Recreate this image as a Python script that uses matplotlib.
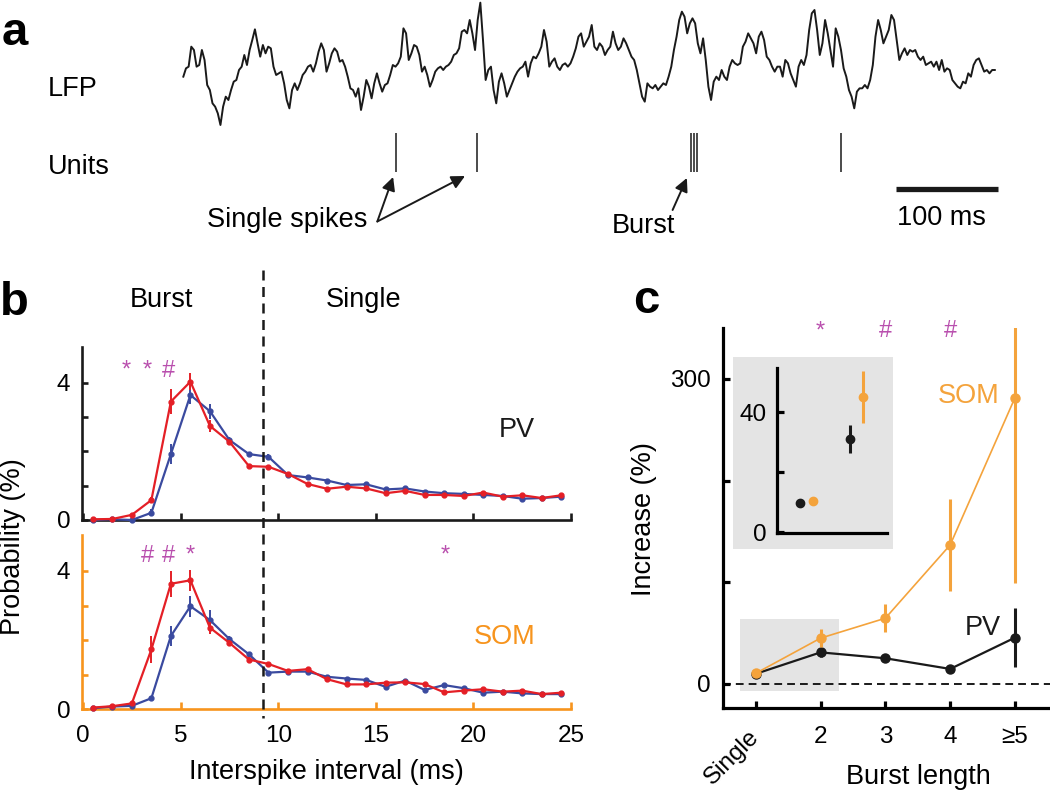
"""Figure: LFP with unit spikes, ISI distributions (PV / SOM) and burst-length increase."""

import numpy as np
import matplotlib.pyplot as plt
import matplotlib.transforms as mtransforms
from matplotlib.lines import Line2D
from matplotlib.patches import Rectangle

plt.rcParams['font.family'] = ['Liberation Sans', 'DejaVu Sans']

# ---------------- data ----------------
# panel a: LFP trace (downward deflection, arbitrary units), sampled every 2.6 ms
lfp_t0 = 1.3
lfp_dt = 2.6
lfp = [230, 205, 200, 140, 150, 200, 195, 150, 180, 255, 270, 310, 320, 340, 375, 320,
       290, 300, 270, 245, 240, 210, 200, 165, 195, 150, 120, 88, 130, 170, 135, 160,
       140, 145, 200, 225, 220, 215, 250, 300, 325, 270, 250, 270, 250, 225, 215, 200,
       195, 215, 190, 155, 130, 150, 215, 190, 160, 145, 155, 185, 180, 200, 230, 265,
       270, 290, 265, 330, 290, 240, 260, 295, 250, 220, 250, 275, 255, 250, 225, 195,
       200, 190, 170, 85, 100, 180, 160, 135, 140, 165, 215, 200, 225, 260, 240, 215,
       205, 200, 210, 200, 195, 185, 165, 160, 145, 95, 90, 100, 60, 100, 150, 60,
       8, 120, 240, 210, 200, 270, 310, 245, 220, 250, 290, 270, 250, 230, 215, 205,
       200, 185, 230, 190, 170, 175, 160, 140, 90, 125, 200, 185, 175, 200, 210, 195,
       190, 200, 190, 170, 145, 110, 100, 140, 125, 110, 75, 140, 150, 130, 140, 165,
       150, 140, 95, 130, 150, 140, 115, 130, 150, 170, 180, 210, 250, 290, 305, 250,
       260, 265, 255, 270, 260, 250, 255, 230, 200, 150, 110, 60, 35, 50, 100, 70,
       55, 70, 130, 160, 115, 180, 260, 300, 245, 230, 240, 210, 230, 240, 200, 180,
       190, 195, 190, 140, 125, 100, 115, 130, 160, 110, 95, 120, 170, 180, 200, 215,
       200, 200, 230, 180, 190, 220, 240, 260, 200, 180, 195, 165, 90, 40, 30, 90,
       165, 130, 60, 100, 150, 200, 85, 110, 150, 205, 230, 270, 290, 325, 275, 265,
       265, 255, 265, 240, 195, 110, 60, 90, 130, 110, 90, 45, 60, 120, 180, 160,
       145, 165, 150, 155, 150, 170, 180, 170, 195, 190, 185, 200, 185, 210, 180, 215,
       205, 210, 240, 250, 260, 265, 245, 250, 220, 230, 195, 180, 175, 195, 215, 210,
       220, 210, 210]
spike_times = [209.8, 289.0, 499.0, 502.0, 505.0, 646.0]   # ms

# panel b: ISI probability (%) in 1-ms bins
isi_bins = np.arange(25) + 0.5
pv_red = [0.02, 0.03, 0.15, 0.58, 3.45, 4.03, 2.74, 2.28, 1.57, 1.55, 1.34, 1.05, 0.91,
          0.97, 0.92, 0.78, 0.85, 0.73, 0.73, 0.70, 0.80, 0.68, 0.72, 0.64, 0.72]
pv_red_err = [0.02, 0.02, 0.03, 0.08, 0.37, 0.25, 0.17, 0.06, 0.06, 0.05, 0.05, 0.04, 0.04,
              0.04, 0.04, 0.04, 0.04, 0.04, 0.04, 0.03, 0.04, 0.03, 0.03, 0.03, 0.03]
pv_blue = [0.0, 0.02, 0.0, 0.21, 1.92, 3.64, 3.17, 2.33, 1.92, 1.84, 1.31, 1.24, 1.15,
           1.02, 1.04, 0.89, 0.92, 0.83, 0.78, 0.76, 0.73, 0.70, 0.62, 0.64, 0.68]
pv_blue_err = [0.02, 0.02, 0.02, 0.1, 0.3, 0.27, 0.22, 0.08, 0.07, 0.07, 0.06, 0.05, 0.05,
               0.04, 0.04, 0.04, 0.04, 0.04, 0.04, 0.03, 0.03, 0.03, 0.03, 0.03, 0.03]
som_red = [0.05, 0.09, 0.17, 1.73, 3.63, 3.73, 2.36, 1.92, 1.44, 1.31, 1.11, 1.16, 0.87,
           0.72, 0.72, 0.77, 0.78, 0.73, 0.49, 0.54, 0.58, 0.51, 0.54, 0.44, 0.48]
som_red_err = [0.02, 0.02, 0.04, 0.4, 0.38, 0.3, 0.17, 0.08, 0.07, 0.06, 0.05, 0.05, 0.05,
               0.04, 0.04, 0.04, 0.04, 0.04, 0.04, 0.03, 0.03, 0.03, 0.03, 0.03, 0.03]
som_blue = [0.03, 0.08, 0.1, 0.32, 2.12, 2.98, 2.58, 2.03, 1.59, 1.06, 1.09, 1.09, 0.94,
            0.89, 0.85, 0.65, 0.83, 0.56, 0.70, 0.61, 0.48, 0.51, 0.46, 0.44, 0.44]
som_blue_err = [0.02, 0.02, 0.02, 0.06, 0.3, 0.31, 0.29, 0.08, 0.07, 0.06, 0.05, 0.05, 0.05,
                0.04, 0.04, 0.04, 0.04, 0.04, 0.04, 0.03, 0.03, 0.03, 0.03, 0.03, 0.03]
burst_cut = 9.2
pv_sig_x = [2.2, 3.3, 4.4]
pv_sig = ['*', '*', '#']
som_sig_x = [3.3, 4.4, 5.5, 18.55]
som_sig = ['#', '#', '*', '*']

# panel c: increase (%) by burst length
burst_labels = ['Single', '2', '3', '4', '\u22655']
pv_inc = [9.9, 31.0, 25.2, 14.7, 45.5]
pv_inc_err = [0.8, 4.7, 4.0, 3.0, 29.0]
som_inc = [10.4, 45.0, 64.6, 136.7, 281.5]
som_inc_err = [0.8, 8.7, 13.6, 45.0, 182.0]
c_sig_x = [1, 2, 3]
c_sig = ['*', '#', '#']

# ---------------- style ----------------
W, H = 1050, 792
INK = '#1a1a1a'
RED = '#e41f26'
BLUE = '#3a4a9f'
ORANGE = '#f7941d'
ORANGE_C = '#f4a33c'
MAGENTA = '#b94fae'
GRAY = '#e4e4e4'
FS = 19.5
TFS = 17.5

fig = plt.figure(figsize=(W / 100, H / 100), dpi=100)


def box(x0, y0, x1, y1):
    """pixel box (origin top-left) -> figure rect"""
    return [x0 / W, 1 - y1 / H, (x1 - x0) / W, (y1 - y0) / H]


def ftext(x, y, s, **kw):
    kw.setdefault('fontsize', FS)
    fig.text(x / W, 1 - y / H, s, **kw)


# ---------------- panel a ----------------
ax_lfp = fig.add_axes(box(182, 0, 1000, 130))
t = lfp_t0 + lfp_dt * np.arange(len(lfp))
ax_lfp.plot(t, -np.asarray(lfp), color=INK, lw=1.4)
ax_lfp.set_xlim(0, 802)
ax_lfp.set_ylim(-390, 0)
ax_lfp.axis('off')

ax_u = fig.add_axes(box(182, 120, 1000, 250))
ax_u.set_xlim(0, 802)
ax_u.set_ylim(250, 120)
ax_u.axis('off')
ax_u.vlines(spike_times, 133, 172, color=INK, lw=1.1)
arrow = dict(arrowstyle='-|>', color=INK, lw=1.4, mutation_scale=20, shrinkA=0, shrinkB=0)
ax_u.annotate('', xy=(207, 177), xytext=(191.5, 221.5), arrowprops=arrow)
ax_u.annotate('', xy=(277.5, 176), xytext=(191.5, 221.5), arrowprops=arrow)
ax_u.annotate('', xy=(495, 178), xytext=(481, 210), arrowprops=arrow)
ax_u.text(103, 227, 'Single spikes', ha='center', va='baseline', fontsize=FS)
ax_u.text(452, 233, 'Burst', ha='center', va='baseline', fontsize=FS)
ax_u.plot([700, 800], [189, 189], color=INK, lw=3.8, solid_capstyle='butt')
ax_u.text(745, 225, '100 ms', ha='center', va='baseline', fontsize=FS)

ftext(2, 45, 'a', fontsize=34, fontweight='bold', va='baseline')
ftext(48, 96, 'LFP', va='baseline')
ftext(48, 174, 'Units', va='baseline')

# ---------------- panel b ----------------
ax_pv = fig.add_axes(box(81.5, 347, 571, 520))
ax_som = fig.add_axes(box(81.5, 535, 571, 709.3))

for ax, red, rerr, blue, berr, col in [
        (ax_pv, pv_red, pv_red_err, pv_blue, pv_blue_err, INK),
        (ax_som, som_red, som_red_err, som_blue, som_blue_err, ORANGE)]:
    ax.errorbar(isi_bins, blue, yerr=berr, color=BLUE, lw=1.6, marker='o', ms=3.5,
                elinewidth=1.4, capsize=0, clip_on=False, zorder=3)
    ax.errorbar(isi_bins, red, yerr=rerr, color=RED, lw=1.6, marker='o', ms=3.5,
                elinewidth=1.4, capsize=0, clip_on=False, zorder=4)
    ax.set_xlim(-0.08, 25)
    ax.set_ylim(0, 5.04)
    for s in ['top', 'right']:
        ax.spines[s].set_visible(False)
    for s in ['left', 'bottom']:
        ax.spines[s].set_color(col)
        ax.spines[s].set_linewidth(1.9)
    ax.set_yticks([0, 1, 2, 3, 4])
    ax.set_yticklabels(['0', '', '', '', '4'])
    ax.set_xticks([0, 5, 10, 15, 20, 25])
    ax.tick_params(axis='y', direction='in', length=4.5, width=1.9, color=col,
                   labelsize=TFS, pad=8)
    ax.tick_params(axis='x', direction='in', length=5, width=1.9, color=col,
                   labelsize=TFS, pad=11)
    ax.set_facecolor('none')

ax_pv.set_xticklabels([])
for x, s in zip(pv_sig_x, pv_sig):
    ax_pv.text(x, 4.17, s, color=MAGENTA, fontsize=17, ha='center', va='baseline')
for x, s in zip(som_sig_x, som_sig):
    ax_som.text(x, 4.27, s, color=MAGENTA, fontsize=17, ha='center', va='baseline')

ax_pv.text(22.2, 2.62, 'PV', fontsize=FS, ha='center', va='center', color=INK)
ax_som.text(21.6, 2.1, 'SOM', fontsize=FS, ha='center', va='center', color=ORANGE)

# burst / single boundary across both panels
trans = mtransforms.blended_transform_factory(ax_som.transData, fig.transFigure)
fig.add_artist(Line2D([burst_cut, burst_cut], [1 - 270 / H, 1 - 718 / H], transform=trans,
                      color=INK, lw=1.8, ls=(0, (4, 2.6))))

ftext(0, 315, 'b', fontsize=34, fontweight='bold', va='baseline')
ftext(161.5, 307, 'Burst', ha='center', va='baseline')
ftext(363.5, 307, 'Single', ha='center', va='baseline')
ftext(13, 547, 'Probability (%)', rotation=90, ha='center', va='center')
ftext(326, 772, 'Interspike interval (ms)', ha='center', va='center')

# ---------------- panel c ----------------
ax_c = fig.add_axes(box(722.7, 328, 1050, 708.3))
xc = np.arange(len(burst_labels))
ax_c.add_patch(Rectangle((-0.24, -6.6), 1.53, 70.2, color=GRAY, lw=0, zorder=0))
ax_c.axhline(0, color=INK, lw=1.4, ls=(0, (4, 2.6)), zorder=1)
ax_c.errorbar(xc, pv_inc, yerr=pv_inc_err, color=INK, lw=1.6, marker='o', ms=6.5,
              elinewidth=2.2, capsize=0, zorder=3)
ax_c.errorbar(xc, som_inc, yerr=som_inc_err, color=ORANGE_C, lw=1.2, marker='o', ms=6.5,
              elinewidth=2.2, capsize=0, zorder=4)
ax_c.set_xlim(-0.51, 4.54)
ax_c.set_ylim(-24, 350)
for s in ['top', 'right']:
    ax_c.spines[s].set_visible(False)
for s in ['left', 'bottom']:
    ax_c.spines[s].set_linewidth(2.3)
ax_c.set_yticks([0, 100, 200, 300])
ax_c.set_yticklabels(['0', '', '', '300'])
ax_c.set_xticks(xc)
ax_c.set_xticklabels([''] + burst_labels[1:])
ax_c.tick_params(axis='y', direction='in', length=5, width=2.3, labelsize=TFS, pad=8.5)
ax_c.tick_params(axis='x', direction='in', length=5, width=2.3, labelsize=TFS, pad=12.5)
ax_c.text(-0.12, -0.047, burst_labels[0], rotation=45, rotation_mode='anchor', ha='right',
          va='top', fontsize=TFS, transform=mtransforms.blended_transform_factory(
              ax_c.transData, ax_c.transAxes))
for x, s in zip(c_sig_x, c_sig):
    ax_c.text(x, 341, s, color=MAGENTA, fontsize=17, ha='center', va='baseline',
              clip_on=False)
ax_c.text(3.29, 283, 'SOM', color=ORANGE_C, fontsize=FS, ha='center', va='center')
ax_c.text(3.5, 55, 'PV', color=INK, fontsize=FS, ha='center', va='center')

# inset: single vs 2
ax_bg = fig.add_axes(box(733.3, 357.3, 893.3, 549.3))
ax_bg.set_facecolor(GRAY)
ax_bg.set_xticks([])
ax_bg.set_yticks([])
for s in ax_bg.spines.values():
    s.set_visible(False)

ax_in = fig.add_axes(box(777.3, 368.3, 886.7, 533.3))
ax_in.set_facecolor('none')
ax_in.errorbar(xc[:2] - 0.13, pv_inc[:2], yerr=pv_inc_err[:2], color=INK, ls='none',
               marker='o', ms=6, elinewidth=2.2, capsize=0)
ax_in.errorbar(xc[:2] + 0.13, som_inc[:2], yerr=som_inc_err[:2], color=ORANGE_C, ls='none',
               marker='o', ms=6, elinewidth=2.2, capsize=0)
ax_in.set_xlim(-0.59, 1.6)
ax_in.set_ylim(-0.33, 54.7)
for s in ['top', 'right']:
    ax_in.spines[s].set_visible(False)
for s in ['left', 'bottom']:
    ax_in.spines[s].set_linewidth(2.3)
ax_in.set_xticks([])
ax_in.set_yticks([0, 20, 40])
ax_in.set_yticklabels(['0', '', '40'])
ax_in.tick_params(axis='y', direction='in', length=5, width=2.3, labelsize=TFS, pad=7.5)

ftext(633, 313, 'c', fontsize=34, fontweight='bold', va='baseline')
ftext(644, 519, 'Increase (%)', rotation=90, ha='center', va='center')
ftext(918, 777, 'Burst length', ha='center', va='center')

fig.savefig('out.png', dpi=100)
